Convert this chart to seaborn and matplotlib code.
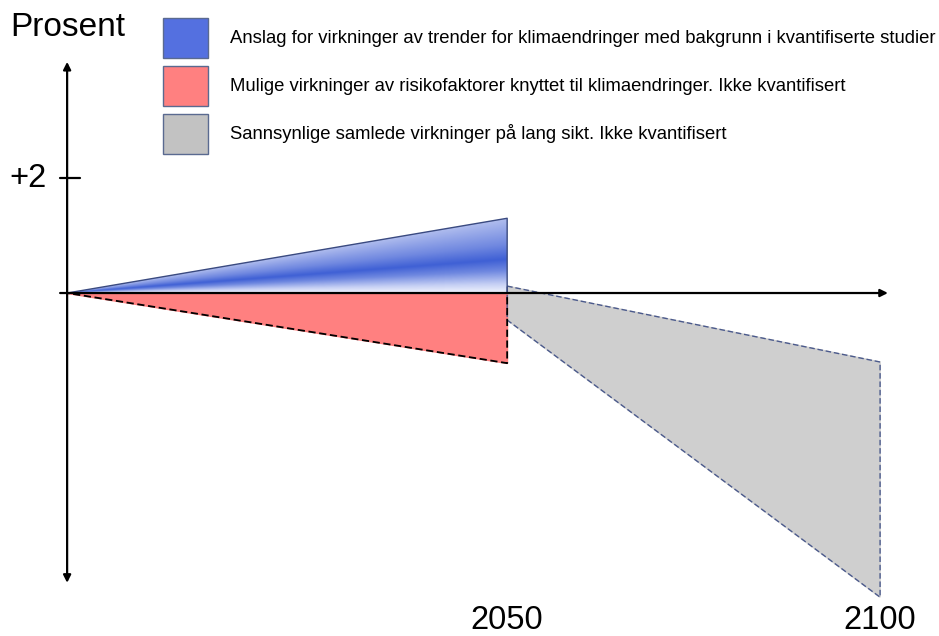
import numpy as np
import matplotlib
matplotlib.use("Agg")
import matplotlib.pyplot as plt
import matplotlib.patches as mpatches
from matplotlib.colors import LinearSegmentedColormap
import seaborn as sns

# Årstall på x-aksen
aar_start = 1991
aar_mid = 2050
aar_slutt = 2100

# Blå: anslag for virkninger av trender (prosent)
blaa_x = [aar_start, aar_mid, aar_mid]
blaa_y = [0.0, 1.30, 0.0]

# Rød: risikofaktorer, ikke kvantifisert
roed_x = [aar_start, aar_mid, aar_mid]
roed_y = [0.0, 0.0, -1.22]

# Grå: samlede virkninger på lang sikt
graa_x = [aar_mid, aar_slutt, aar_slutt, aar_mid]
graa_y = [0.12, -1.20, -5.29, -0.47]

# Tekster
etiketter = [
    "Anslag for virkninger av trender for klimaendringer med bakgrunn i kvantifiserte studier",
    "Mulige virkninger av risikofaktorer knyttet til klimaendringer. Ikke kvantifisert",
    "Sannsynlige samlede virkninger på lang sikt. Ikke kvantifisert",
]
farger = ["#5470e0", "#ff8080", "#c2c2c2"]
aar_etiketter = ["2050", "2100"]
y_tick = 2

sns.set_theme(style="white")
plt.rcParams["font.family"] = ["Liberation Sans", "DejaVu Sans"]
plt.rcParams["text.color"] = "black"

fig = plt.figure(figsize=(9.39, 6.36), dpi=100)
ax = fig.add_axes([0, 0, 1, 1])

# Grå flate med stiplet kant
ax.fill(graa_x, graa_y, color="#cfcfcf", zorder=1)
sns.lineplot(x=graa_x + graa_x[:1], y=graa_y + graa_y[:1], sort=False, estimator=None,
             ax=ax, color="#4b5a8c", lw=1.0, linestyle=(0, (4, 2)), zorder=2)

# Rød flate
ax.fill(roed_x, roed_y, color="#ff8080", zorder=1)
sns.lineplot(x=roed_x + roed_x[:1], y=roed_y + roed_y[:1], sort=False, estimator=None,
             ax=ax, color="black", lw=1.3, linestyle=(0, (4, 2)), zorder=2)

# Blå flate med gradient
poly = mpatches.Polygon(list(zip(blaa_x, blaa_y)), closed=True, facecolor="none",
                        edgecolor="none", transform=ax.transData)
ax.add_patch(poly)
cmap = LinearSegmentedColormap.from_list("blaa", [
    (0.0, "#f0f3fd"), (0.12, "#c5cff4"), (0.3, "#6f88e0"),
    (0.45, "#3f60d5"), (0.65, "#7088e0"), (1.0, "#b0bdee")])
gx = np.linspace(aar_start, aar_mid, 300)
gy = np.linspace(0, max(blaa_y), 150)
X, Y = np.meshgrid(gx, gy)
topp = max(blaa_y) * (X - aar_start) / (aar_mid - aar_start)
t = np.clip(Y / np.maximum(topp, 1e-6), 0, 1)
im = ax.imshow(t, cmap=cmap, extent=[aar_start, aar_mid, 0, max(blaa_y)],
               origin="lower", aspect="auto", zorder=1, interpolation="bilinear")
im.set_clip_path(poly)
sns.lineplot(x=blaa_x[:2] + [blaa_x[2]], y=blaa_y[:2] + [blaa_y[2]], sort=False,
             estimator=None, ax=ax, color="#3a4a80", lw=1.0, zorder=2)

# Akser med piler
ax.annotate("", xy=(aar_start, 4.02), xytext=(aar_start, -5.04),
            arrowprops=dict(arrowstyle="<|-|>", color="black", lw=1.6,
                            mutation_scale=11, shrinkA=0, shrinkB=0), zorder=5)
ax.annotate("", xy=(2101.05, 0), xytext=(1990.06, 0),
            arrowprops=dict(arrowstyle="-|>", color="black", lw=1.6,
                            mutation_scale=11, shrinkA=0, shrinkB=0), zorder=5)
ax.plot([1990.06, 1992.7], [y_tick, y_tick], color="black", lw=1.6, zorder=5)

ax.text(1988.3, y_tick, f"+{y_tick}", ha="right", va="center", fontsize=23.5)
for aar, lab in zip([aar_mid, aar_slutt], aar_etiketter):
    ax.text(aar, -5.69, lab, ha="center", va="center", fontsize=23.5)
fig.text(10 / 939, 1 - 28 / 636, "Prosent", ha="left", va="center", fontsize=24)

# Forklaring
handles = [mpatches.Patch(facecolor=c, edgecolor="#5a6a90", lw=1) for c in farger]
ax.legend(handles, etiketter, loc="upper left", bbox_to_anchor=(163 / 939, 1 - 18 / 636),
          bbox_transform=fig.transFigure, frameon=False, fontsize=13.3,
          handlelength=2.436, handleheight=2.954, labelspacing=0.433,
          handletextpad=1.19, borderpad=0, borderaxespad=0)

ax.set_xlim(1982.0, 2107.9)
ax.set_ylim(-5.965, 5.096)
ax.axis("off")

plt.savefig("out.png", dpi=100)
